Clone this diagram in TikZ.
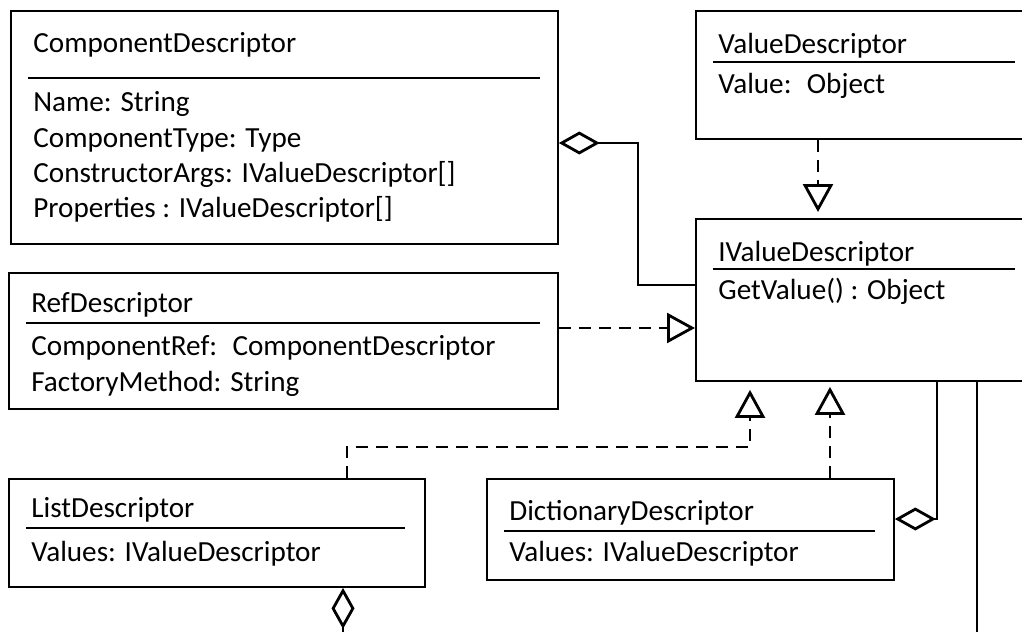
\documentclass[tikz,border=0pt]{standalone}
\usepackage{fontspec}
\setmainfont{Carlito}
\usepackage{tikz}
\usetikzlibrary{arrows.meta}

\begin{document}
\begin{tikzpicture}
[
x=0.02cm, y=-0.02cm,
box/.style={rectangle, draw=black, line width=1.1pt, anchor=north west, inner sep=0pt},
txt/.style={anchor=base west, inner sep=0pt, font=\fontsize{16.6}{20}\selectfont},
divider/.style={black, line width=1.1pt},
realize/.style={black, line width=1.6pt, dash pattern=on 0.24cm off 0.16cm, -{Triangle[open, length=0.56cm, width=0.6cm]}},
aggr/.style={black, line width=1.6pt, {Diamond[open, length=0.82cm, width=0.46cm]}-},
]
\useasboundingbox (0,0) rectangle (1022,632);
\clip (0,0) rectangle (1022,632);

% classes
\node [box, minimum width=10.94cm, minimum height=4.66cm] (compdesc) at (10,10) {};
\node [txt] (compdesc-name) at (33,52) {ComponentDescriptor};
\draw [divider] (28,78) -- (540,78);
\node [txt] (compdesc-a1) at (33,111) {Name: String};
\node [txt] (compdesc-a2) at (33,147) {ComponentType: Type};
\node [txt] (compdesc-a3) at (33,182) {ConstructorArgs: IValueDescriptor[]};
\node [txt] (compdesc-a4) at (33,217) {Properties : IValueDescriptor[]};

\node [box, minimum width=6.9cm, minimum height=2.56cm] (valdesc) at (695,10) {};
\node [txt] (valdesc-name) at (718,53) {ValueDescriptor};
\draw [divider] (713,62) -- (1015,62);
\node [txt] (valdesc-a1) at (718,93) {Value:~ Object};

\node [box, minimum width=6.9cm, minimum height=3.24cm] (ivd) at (695,218) {};
\node [txt] (ivd-name) at (718,261) {IValueDescriptor};
\draw [divider] (713,269) -- (1015,269);
\node [txt] (ivd-m1) at (718,299) {GetValue() : Object};

\node [box, minimum width=10.98cm, minimum height=2.72cm] (refdesc) at (8,272) {};
\node [txt] (refdesc-name) at (31,312) {RefDescriptor};
\draw [divider] (26,323) -- (540,323);
\node [txt] (refdesc-a1) at (31,355) {ComponentRef:~ ComponentDescriptor};
\node [txt] (refdesc-a2) at (31,391) {FactoryMethod: String};

\node [box, minimum width=8.32cm, minimum height=2.16cm] (listdesc) at (8,478) {};
\node [txt] (listdesc-name) at (31,517) {ListDescriptor};
\draw [divider] (26,528) -- (405,528);
\node [txt] (listdesc-a1) at (31,561) {Values: IValueDescriptor};

\node [box, minimum width=8.14cm, minimum height=2.02cm] (dictdesc) at (486,478) {};
\node [txt] (dictdesc-name) at (509,520) {DictionaryDescriptor};
\draw [divider] (504,531) -- (875,531);
\node [txt] (dictdesc-a1) at (509,561) {Values: IValueDescriptor};

% relations
\draw [aggr] (compdesc.east |- 0,143) -| (638,285) -- (ivd.west |- 0,285);
\draw [realize, shorten >=0.12cm] (valdesc.south -| 818,0) -- (ivd.north -| 818,0);
\draw [realize] (refdesc.east |- 0,328) -- (ivd.west |- 0,328);
\draw [realize, shorten >=0.16cm] (listdesc.north -| 347,0) |- (750,447) -- (ivd.south -| 750,0);
\draw [realize, shorten >=0.1cm] (dictdesc.north -| 830,0) -- (ivd.south -| 830,0);
\draw [aggr] (dictdesc.east |- 0,519) -| (ivd.south -| 937,0);
\draw [aggr] (listdesc.south -| 343,0) -- (343,660) -| (ivd.south -| 977,0);
\end{tikzpicture}
\end{document}
